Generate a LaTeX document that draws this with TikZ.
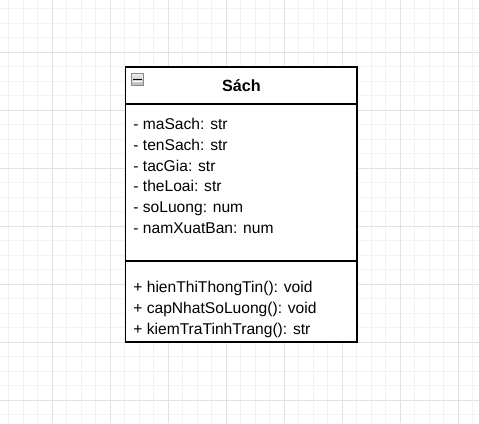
\documentclass[tikz,border=0pt]{standalone}
\usepackage{fontspec}
\setmainfont{Liberation Sans}
\definecolor{gridminor}{HTML}{F2F2F2}
\definecolor{gridmajor}{HTML}{E2E2E2}
\definecolor{iconborder}{HTML}{8A8A8A}
\definecolor{icontop}{HTML}{EDEDED}
\definecolor{iconbottom}{HTML}{B8B8B8}
\tikzset{
  compart/.style={draw=black, line width=1.2pt, fill=white, inner sep=0pt, minimum width=231.5pt},
  member/.style={anchor=base west, inner sep=0pt, font=\fontsize{15.6}{20.7}\selectfont},
  titletext/.style={inner sep=0pt, font=\bfseries\fontsize{16.2}{20}\selectfont},
  iconbox/.style={draw=iconborder, line width=0.9pt, top color=icontop, bottom color=iconbottom, minimum size=12pt, inner sep=0pt}
}
\begin{document}
\begin{tikzpicture}[x=1pt,y=-1pt]
\useasboundingbox (0,0) rectangle (479,423);
\fill[white] (0,0) rectangle (479,423);
% grid
\foreach \k in {0,...,32} {
  \draw[gridminor, line width=0.8pt] ({8.8+14.5*\k},0) -- ({8.8+14.5*\k},423);
}
\foreach \k in {0,...,28} {
  \draw[gridminor, line width=0.8pt] (0,{8.8+14.5*\k}) -- (479,{8.8+14.5*\k});
}
\foreach \k in {0,...,7} {
  \draw[gridmajor, line width=0.8pt] ({52.3+58*\k},0) -- ({52.3+58*\k},423);
}
\foreach \k in {0,...,6} {
  \draw[gridmajor, line width=0.8pt] (0,{52.3+58*\k}) -- (479,{52.3+58*\k});
}
% class compartments
\node[compart, minimum height=37pt] (title) at (241.25,85.5) {};
\node[compart, minimum height=157pt] (attrs) at (241.25,182.5) {};
\node[compart, minimum height=81pt] (meths) at (241.25,301.5) {};
% title
\node[titletext, anchor=base] (name) at (241.5,91.5) {Sách};
% collapse icon
\node[iconbox] (icon) at (137.5,79.5) {};
\draw[black, line width=1.4pt] ([xshift=2.2pt]icon.west) -- ([xshift=-2.2pt]icon.east);
\draw[white, line width=0.8pt] ([xshift=2.2pt,yshift=-1.4pt]icon.west) -- ([xshift=-2.2pt,yshift=-1.4pt]icon.east);
% attributes
\node[member] (a1) at (133.2,129.7) {- maSach: str};
\node[member] (a2) at (133.2,150.4) {- tenSach: str};
\node[member] (a3) at (133.2,171.1) {- tacGia: str};
\node[member] (a4) at (133.2,191.8) {- theLoai: str};
\node[member] (a5) at (133.2,212.5) {- soLuong: num};
\node[member] (a6) at (133.2,233.2) {- namXuatBan: num};
% methods
\node[member] (m1) at (133.2,292.7) {+ hienThiThongTin(): void};
\node[member] (m2) at (133.2,313.4) {+ capNhatSoLuong(): void};
\node[member] (m3) at (133.2,334.1) {+ kiemTraTinhTrang(): str};
\end{tikzpicture}
\end{document}
